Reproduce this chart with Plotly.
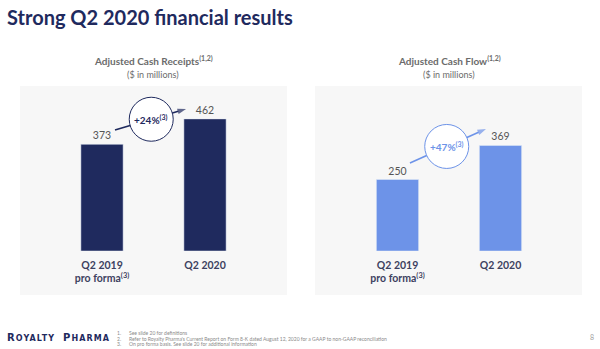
import plotly.graph_objects as go

# ---- data -------------------------------------------------------------
categories = ["Q2 2019<br>pro forma<sup>(3)</sup>", "Q2 2020"]
cash_receipts = [373, 462]
cash_flow = [250, 369]
receipts_growth = "+24%"
flow_growth = "+47%"

footnotes = [
    "See slide 20 for definitions",
    "Refer to Royalty Pharma's Current Report on Form 8-K dated August 12, 2020 for a GAAP to non-GAAP reconciliation",
    "On pro forma basis. See slide 20 for additional information",
]

NAVY = "#1f2a5e"
BLUE = "#6d93e8"
PANEL = "#f7f7f7"
GREY_TXT = "#6b6b6b"
LABEL_TXT = "#3d4160"
FONT = "Lato"

W, H = 600, 349
Y_MAX = 577
X_UNIT_PX = 103          # pixels per category step
Y_UNIT_PX = 165 / Y_MAX  # pixels per $m


def px(x):
    return x / W


def py(y):
    return 1 - y / H


positions = list(range(len(categories)))

fig = go.Figure()

fig.add_trace(go.Bar(
    x=positions, y=cash_receipts, marker_color=NAVY,
    text=cash_receipts, textposition="outside", cliponaxis=False,
    textfont=dict(size=10.5, color="#555555", family=FONT),
    xaxis="x", yaxis="y", hoverinfo="skip",
))
fig.add_trace(go.Bar(
    x=positions, y=cash_flow, marker_color=BLUE,
    text=cash_flow, textposition="outside", cliponaxis=False,
    textfont=dict(size=10.5, color="#555555", family=FONT),
    xaxis="x2", yaxis="y2", hoverinfo="skip",
))

ydom = [py(251), py(86)]
tickfont = dict(size=10.5, color=LABEL_TXT, family=FONT)
cat_ticks = ["<b>" + c + "</b>" for c in categories]
xaxis_common = dict(range=[-0.5, 1.5], showgrid=False, zeroline=False,
                    showline=False, tickvals=positions, ticktext=cat_ticks,
                    tickfont=tickfont, ticks="", ticklabelstandoff=6)

fig.update_layout(
    width=W, height=H, margin=dict(l=0, r=0, t=0, b=0),
    paper_bgcolor="white", plot_bgcolor="rgba(0,0,0,0)",
    showlegend=False, bargap=0.59,
    font=dict(family=FONT),
    xaxis=dict(domain=[px(50.5), px(256.5)], **xaxis_common),
    yaxis=dict(domain=ydom, range=[0, Y_MAX], visible=False),
    xaxis2=dict(domain=[px(346), px(552)], anchor="y2", **xaxis_common),
    yaxis2=dict(domain=ydom, range=[0, Y_MAX], visible=False, anchor="x2"),
)

shapes = []
# light panels behind each chart
for x0, x1 in [(20, 287), (315, 582)]:
    shapes.append(dict(type="rect", xref="paper", yref="paper",
                       x0=px(x0), x1=px(x1), y0=py(295), y1=py(86),
                       fillcolor=PANEL, line=dict(width=0), layer="below"))

annotations = []


def growth_badge(xa, ya, vals, color, label, x_tail, x_head, lift_tail, lift_head):
    # rising arrow between the two bars, with a ringed growth badge on it
    y_tail = vals[0] + lift_tail
    y_head = vals[1] + lift_head
    fig.add_trace(go.Scatter(
        x=[x_tail, x_head], y=[y_tail, y_head], mode="lines+markers",
        line=dict(color=color, width=1.6),
        marker=dict(symbol="arrow", size=[0, 9], angleref="previous",
                    color=color, line=dict(width=0)),
        xaxis=xa, yaxis=ya, hoverinfo="skip", cliponaxis=False,
    ))
    xc = 0.478
    yc = y_tail + (y_head - y_tail) * (xc - x_tail) / (x_head - x_tail)
    r = 22
    rx, ry = r / X_UNIT_PX, r / Y_UNIT_PX
    shapes.append(dict(type="circle", xref=xa, yref=ya,
                       x0=xc - rx, x1=xc + rx, y0=yc - ry, y1=yc + ry,
                       fillcolor="white", line=dict(color=color, width=1),
                       layer="above"))
    annotations.append(dict(xref=xa, yref=ya, x=xc, y=yc, showarrow=False,
                            text="<b>" + label + "<sup>(3)</sup></b>",
                            font=dict(size=10, color=color, family=FONT)))


growth_badge("x", "y", cash_receipts, NAVY, receipts_growth, 0.126, 0.816, 50, 35)
growth_badge("x2", "y2", cash_flow, BLUE, flow_growth, 0.121, 0.859, 58, 58)

# slide title
annotations.append(dict(xref="paper", yref="paper", x=px(5), y=py(17),
                        xanchor="left", yanchor="middle", showarrow=False,
                        text="<b>Strong Q2 2020 financial results</b>",
                        font=dict(size=20, color=NAVY, family=FONT)))

# chart titles
for cx, name in [(153, "Adjusted Cash Receipts"), (449, "Adjusted Cash Flow")]:
    annotations.append(dict(xref="paper", yref="paper", x=px(cx), y=py(61),
                            xanchor="center", yanchor="middle", showarrow=False,
                            text="<b>" + name + "<sup>(1,2)</sup></b>",
                            font=dict(size=10, color=GREY_TXT, family=FONT)))
    annotations.append(dict(xref="paper", yref="paper", x=px(cx), y=py(74),
                            xanchor="center", yanchor="middle", showarrow=False,
                            text="($ in millions)",
                            font=dict(size=9, color=GREY_TXT, family=FONT)))

# footer: logo, footnotes, page number
annotations.append(dict(xref="paper", yref="paper", x=px(5), y=py(337),
                        xanchor="left", yanchor="middle", showarrow=False,
                        text="<span style='letter-spacing:1.1px'><b>"
                             "<span style='font-size:10px'>R</span>OYALTY  "
                             "<span style='font-size:10px'>P</span>HARMA</b></span>",
                        font=dict(size=8, color=NAVY, family="DejaVu Sans")))
for i, note in enumerate(footnotes):
    yy = py(333 + 5.5 * i)
    annotations.append(dict(xref="paper", yref="paper", x=px(115), y=yy,
                            xanchor="left", yanchor="middle", showarrow=False,
                            text=f"{i + 1}.", font=dict(size=5, color="#8a8a8a", family=FONT)))
    annotations.append(dict(xref="paper", yref="paper", x=px(127), y=yy,
                            xanchor="left", yanchor="middle", showarrow=False,
                            text=note, font=dict(size=5, color="#8a8a8a", family=FONT)))
annotations.append(dict(xref="paper", yref="paper", x=px(592), y=py(337),
                        xanchor="center", yanchor="middle", showarrow=False,
                        text="8", font=dict(size=7, color="#a0a0a0", family=FONT)))

fig.update_layout(shapes=shapes, annotations=annotations)
fig.write_html("out.html")
